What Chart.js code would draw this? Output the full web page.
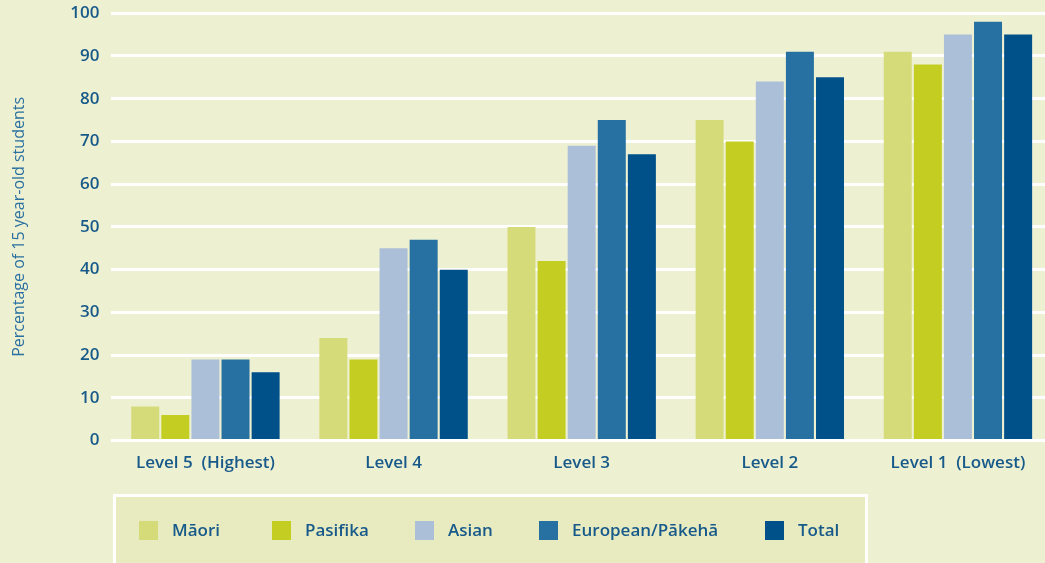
<!DOCTYPE html>
<html>
<head>
<meta charset="utf-8">
<script src="https://cdn.jsdelivr.net/npm/chart.js@4/dist/chart.umd.min.js"></script>
<style>
  html, body { margin: 0; padding: 0; background: #eef0d2; overflow: hidden; }
  #wrap { width: 1052px; height: 572px; position: relative; top: -9px; }
</style>
</head>
<body>
<div id="wrap"><canvas id="chart"></canvas></div>
<script>
const levels = ['Level 5  (Highest)', 'Level 4', 'Level 3', 'Level 2', 'Level 1  (Lowest)']
const groups = ['Māori', 'Pasifika', 'Asian', 'European/Pākehā', 'Total']
const maori = [8, 24, 50, 75, 91]
const pasifika = [6, 19, 42, 70, 88]
const asian = [19, 45, 69, 84, 95]
const european = [19, 47, 75, 91, 98]
const total = [16, 40, 67, 85, 95]
const yTicks = [0, 10, 20, 30, 40, 50, 60, 70, 80, 90, 100]

const colors = ['#d6db7a', '#c3cd22', '#abbfd9', '#2670a2', '#00518a']
const textColor = '#175a8a'
const font = 'Open Sans, sans-serif'

// legend box drawn under the plot, with fixed slots like the original
// (canvas is shifted up 9px, so y values are offset by 9)
const boxLegend = {
  id: 'boxLegend',
  afterDraw(chart, args, opts) {
    const ctx = chart.ctx
    const dy = 9
    ctx.save()
    ctx.fillStyle = '#e8ebc0'
    ctx.fillRect(114.5, 495.5 + dy, 752, 80)
    ctx.strokeStyle = '#ffffff'
    ctx.lineWidth = 3
    ctx.strokeRect(114.5, 495.5 + dy, 752, 80)
    ctx.font = '600 17px ' + font
    ctx.textBaseline = 'middle'
    chart.data.datasets.forEach((ds, i) => {
      const x = opts.slots[i]
      ctx.fillStyle = ds.backgroundColor
      ctx.fillRect(x, 521 + dy, 19, 19)
      ctx.fillStyle = textColor
      ctx.fillText(ds.label, x + 33, 531 + dy)
    })
    ctx.restore()
  }
}

const series = [maori, pasifika, asian, european, total]

new Chart(document.getElementById('chart'), {
  type: 'bar',
  data: {
    labels: levels,
    datasets: series.map((data, i) => ({
      label: groups[i],
      data: data,
      backgroundColor: colors[i],
      borderWidth: 0,
      barPercentage: 0.93,
      categoryPercentage: 0.8
    }))
  },
  options: {
    responsive: true,
    maintainAspectRatio: false,
    animation: false,
    layout: { padding: { top: 1, right: 0, bottom: 86, left: 10 } },
    plugins: {
      legend: { display: false },
      tooltip: { enabled: false },
      boxLegend: { slots: [139, 272, 415, 539, 765] }
    },
    scales: {
      x: {
        grid: { display: false },
        border: { display: false },
        ticks: { color: textColor, font: { family: font, size: 17, weight: '600' }, padding: 4 }
      },
      y: {
        min: 0,
        max: 100,
        afterBuildTicks: axis => { axis.ticks = yTicks.map(v => ({ value: v })) },
        grid: { color: '#ffffff', lineWidth: 3, drawTicks: false },
        border: { display: false },
        ticks: { color: textColor, font: { family: font, size: 17, weight: '600' }, padding: 12 },
        title: {
          display: true,
          text: 'Percentage of 15 year-old students',
          color: '#2a70a0',
          font: { family: font, size: 16 },
          padding: { top: 0, bottom: 29 }
        }
      }
    }
  },
  plugins: [boxLegend]
})
</script>
</body>
</html>
